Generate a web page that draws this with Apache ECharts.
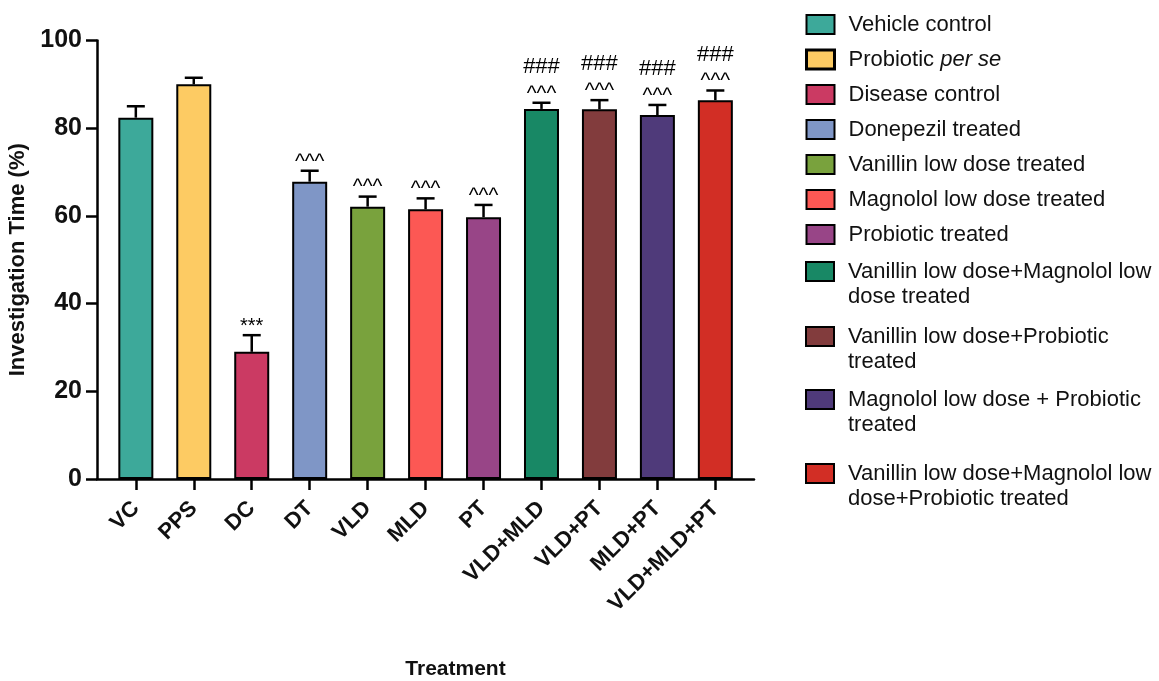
<!DOCTYPE html>
<html>
<head>
<meta charset="utf-8">
<title>Investigation Time by Treatment</title>
<script src="https://cdn.jsdelivr.net/npm/echarts@6/dist/echarts.min.js"></script>
<style>
  html, body { margin: 0; padding: 0; background: #ffffff; }
  #chart { width: 1159px; height: 681px; }
</style>
</head>
<body>
<div id="chart"></div>
<script>
// Treatment groups (axis labels) and their legend names
const categories = ['VC', 'PPS', 'DC', 'DT', 'VLD', 'MLD', 'PT', 'VLD+MLD', 'VLD+PT', 'MLD+PT', 'VLD+MLD+PT'];
const groupNames = [
  'Vehicle control',
  'Probiotic per se',
  'Disease control',
  'Donepezil treated',
  'Vanillin low dose treated',
  'Magnolol low dose treated',
  'Probiotic treated',
  'Vanillin low dose+Magnolol low\ndose treated',
  'Vanillin low dose+Probiotic\ntreated',
  'Magnolol low dose + Probiotic\ntreated',
  'Vanillin low dose+Magnolol low\ndose+Probiotic treated'
];

// Mean investigation time (%) and SEM per group
const meanValues = [82.4, 90.0, 29.0, 67.8, 62.1, 61.5, 59.7, 84.4, 84.3, 83.0, 86.4];
const semValues  = [2.6, 1.5, 3.8, 2.5, 2.3, 2.5, 2.8, 1.4, 2.1, 2.3, 2.2];

// Significance marks drawn above the error bars
const starMarks  = ['', '', '***', '', '', '', '', '', '', '', ''];
const caretMarks = ['', '', '', '^^^', '^^^', '^^^', '^^^', '^^^', '^^^', '^^^', '^^^'];
const hashMarks  = ['', '', '', '', '', '', '', '###', '###', '###', '###'];

// Y axis ticks
const yTicks = [0, 20, 40, 60, 80, 100];

const barColors = ['#3da99a', '#fdcb63', '#cb3a63', '#7f96c6', '#79a23d', '#fc5854',
                   '#984587', '#188865', '#823c3d', '#4f3a7a', '#d22e25'];

const FONT = "'Liberation Sans', Arial, Helvetica, sans-serif";
const categoryIndex = categories.map((_, i) => i);

const chart = echarts.init(document.getElementById('chart'), null, { renderer: 'canvas' });

const barSeries = categories.map((cat, i) => ({
  type: 'bar',
  name: groupNames[i],
  data: [[i, meanValues[i]]],
  barWidth: 35,
  barGap: '-100%',
  z: 2,
  itemStyle: { color: barColors[i], borderColor: '#000', borderWidth: 2 },
  emphasis: { disabled: true }
}));

const errorSeries = {
  type: 'custom',
  name: 'sem',
  z: 5,
  silent: true,
  data: categories.map((_, i) => [i, meanValues[i], semValues[i]]),
  encode: { x: 0, y: 1 },
  renderItem: function (params, api) {
    const i = params.dataIndex;
    const x = api.value(0);
    const mean = api.value(1);
    const err = api.value(2);
    const base = api.coord([x, mean]);
    const top = api.coord([x, mean + err]);
    const lineStyle = { stroke: '#000', lineWidth: 2.5 };
    const children = [
      { type: 'line', shape: { x1: base[0], y1: base[1], x2: top[0], y2: top[1] }, style: lineStyle },
      { type: 'line', shape: { x1: top[0] - 9, y1: top[1], x2: top[0] + 9, y2: top[1] }, style: lineStyle }
    ];
    const mark = (t, dy, size) => ({
      type: 'text',
      style: {
        text: t, x: top[0], y: top[1] - dy,
        align: 'center', verticalAlign: 'middle',
        font: size + 'px ' + FONT, fill: '#000'
      }
    });
    if (starMarks[i]) children.push(mark(starMarks[i], 9, 20));
    if (caretMarks[i]) children.push(mark(caretMarks[i], 9, 21));
    if (hashMarks[i]) children.push(mark(hashMarks[i], 36, 22));
    return { type: 'group', children: children };
  }
};

// Shared legend look; two-line entries get a blank first slot so the swatch sits on the first line
function legendBlock(names, top, gap, twoLine) {
  return {
    orient: 'vertical',
    left: 805,
    top: top,
    padding: 0,
    itemGap: gap,
    icon: 'rect',
    itemWidth: 28,
    itemHeight: 19,
    selectedMode: false,
    data: names.map(n => n === 'Probiotic per se' ? { name: n, itemStyle: { borderWidth: 3 } } : n),
    formatter: function (name) {
      if (name === 'Probiotic per se') return '{r|Probiotic }{i|per se}';
      return name;
    },
    textStyle: {
      fontFamily: FONT,
      fontSize: 22,
      color: '#111',
      lineHeight: 25,
      padding: twoLine ? [25, 0, 0, 9] : [0, 0, 0, 9],
      rich: {
        r: { fontFamily: FONT, fontSize: 22, color: '#111', lineHeight: 25 },
        i: { fontFamily: FONT, fontSize: 22, color: '#111', lineHeight: 25, fontStyle: 'italic' }
      }
    }
  };
}

const option = {
  backgroundColor: '#ffffff',
  animation: false,
  grid: { left: 97, right: 405, top: 40.5, bottom: 202, containLabel: false, outerBoundsMode: 'none' },
  legend: [
    legendBlock(groupNames.slice(0, 7), 12, 10, false),
    legendBlock(groupNames.slice(7, 8), 234, 0, true),
    legendBlock(groupNames.slice(8, 9), 299, 0, true),
    legendBlock(groupNames.slice(9, 10), 362, 0, true),
    legendBlock(groupNames.slice(10), 436, 0, true)
  ],
  xAxis: {
    type: 'value',
    min: -0.67,
    max: 10.667,
    name: 'Treatment',
    nameLocation: 'middle',
    nameGap: 180,
    nameTextStyle: { fontFamily: FONT, fontSize: 21, fontWeight: 'bold', color: '#111', padding: [0, 0, 0, 60] },
    splitLine: { show: false },
    axisLine: { onZero: false, lineStyle: { color: '#000', width: 2.5 } },
    axisTick: { customValues: categoryIndex, length: 11, lineStyle: { color: '#000', width: 2.5 } },
    axisLabel: {
      customValues: categoryIndex,
      formatter: v => categories[Math.round(v)],
      rotate: 45,
      margin: 26,
      fontFamily: FONT,
      fontSize: 22,
      fontWeight: 'bold',
      color: '#111'
    }
  },
  yAxis: {
    type: 'value',
    min: 0,
    max: 100,
    interval: 20,
    name: 'Investigation Time (%)',
    nameLocation: 'middle',
    nameGap: 59,
    nameTextStyle: { fontFamily: FONT, fontSize: 22, fontWeight: 'bold', color: '#111' },
    splitLine: { show: false },
    axisLine: { show: true, onZero: false, lineStyle: { color: '#000', width: 2.5 } },
    axisTick: { show: true, length: 11, lineStyle: { color: '#000', width: 2.5 } },
    axisLabel: {
      customValues: yTicks,
      margin: 15,
      fontFamily: FONT,
      fontSize: 25,
      fontWeight: 'bold',
      color: '#111'
    }
  },
  series: barSeries.concat([errorSeries])
};

chart.setOption(option);
</script>
</body>
</html>
